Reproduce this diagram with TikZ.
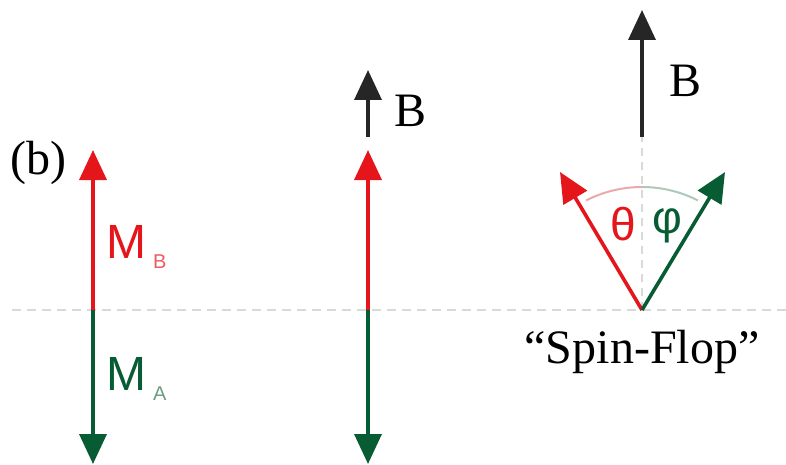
\documentclass[tikz,border=0pt]{standalone}
\usepackage{fontspec}
\setmainfont{Liberation Serif}
\newfontfamily\arialf{Liberation Sans}
\usetikzlibrary{arrows.meta}
\definecolor{vred}{RGB}{228,22,28}
\definecolor{vgreen}{RGB}{8,92,52}
\definecolor{lred}{RGB}{235,170,170}
\definecolor{lgreen}{RGB}{175,200,185}
\tikzset{
  vec/.style={line width=3.6pt, -{Triangle[width=27pt,length=30pt]}},
  redvec/.style={vec, draw=vred, fill=vred},
  greenvec/.style={vec, draw=vgreen, fill=vgreen},
  bvec/.style={vec, draw=black!85, fill=black},
  guide/.style={draw=black!15, line width=2pt, dash pattern=on 9pt off 6pt},
  lab/.style={inner sep=0pt, font=\fontsize{48}{48}\selectfont},
  mlab/.style={inner sep=0pt, font=\arialf\fontsize{48}{48}\selectfont},
  sublab/.style={inner sep=0pt, font=\arialf\fontsize{20}{20}\selectfont},
}
\begin{document}
\begin{tikzpicture}[x=1pt,y=-1pt]
\path[use as bounding box] (0,0) rectangle (786,465);
% guide line
\coordinate (gl) at (12,310);
\coordinate (gr) at (786,310);
\draw[guide] (gl) -- (gr);
% left pair
\coordinate (L0) at (93,310);
\coordinate (Lt) at (93,150);
\coordinate (Lb) at (93,464);
\draw[redvec] (L0) -- (Lt);
\draw[greenvec] (L0) -- (Lb);
\node[lab, anchor=base west] (lb) at (10,175) {(b)};
\node[mlab, text=vred, anchor=base west] (mb) at (106,258) {M};
\node[sublab, text=vred!70, anchor=base west] (mbs) at (153,268) {B};
\node[mlab, text=vgreen, anchor=base west] (ma) at (106,390) {M};
\node[sublab, text=vgreen!60, anchor=base west] (mas) at (153,400) {A};
% middle pair
\coordinate (M0) at (368,310);
\coordinate (Mt) at (368,150);
\coordinate (Mb) at (368,464);
\coordinate (MB0) at (368,137);
\coordinate (MBt) at (368,70);
\draw[redvec] (M0) -- (Mt);
\draw[greenvec] (M0) -- (Mb);
\draw[bvec] (MB0) -- (MBt);
\node[lab, anchor=base west] (bm) at (394,127) {B};
% right spin-flop
\coordinate (R0) at (642,310);
\coordinate (RB0) at (642,137);
\coordinate (RBt) at (642,10);
\coordinate (Rr) at (560,172);
\coordinate (Rg) at (725,172);
\draw[guide, dash pattern=on 8pt off 6pt] (R0) -- (RB0);
\draw[lred, line width=2pt] (R0) ++(-117:123) arc[start angle=-117, end angle=-90, radius=123];
\draw[lgreen, line width=2pt] (R0) ++(-90:123) arc[start angle=-90, end angle=-63, radius=123];
\draw[bvec] (RB0) -- (RBt);
\draw[redvec] (R0) -- (Rr);
\draw[greenvec] (R0) -- (Rg);
\node[lab, anchor=base west] (br) at (669,97) {B};
\node[mlab, text=vred, anchor=base west, font=\arialf\fontsize{46}{46}\selectfont] (th) at (610,240) {θ};
\node[mlab, text=vgreen, anchor=base west, font=\arialf\fontsize{46}{46}\selectfont] (ph) at (652,233) {φ};
\node[lab, anchor=base] (sf) at (642,363) {“Spin-Flop”};
\end{tikzpicture}
\end{document}
